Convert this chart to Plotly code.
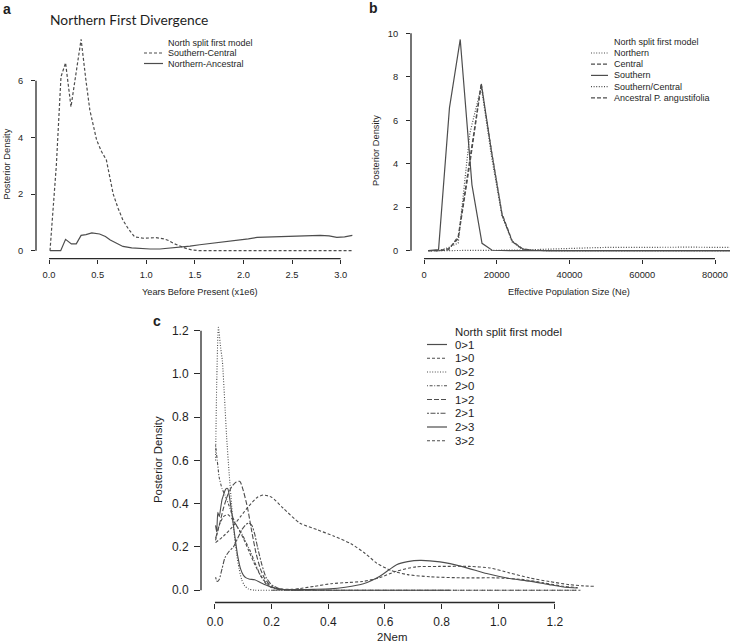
import plotly.graph_objects as go

W, H = 730, 642

# ---------------- data: panel a ----------------
a_title = "Northern First Divergence"
a_legend_title = "North split first model"
a_names = ["Southern-Central", "Northern-Ancestral"]
a_sc_x = [0.01, 0.075, 0.123, 0.17, 0.226, 0.28, 0.33, 0.38, 0.42, 0.49, 0.54, 0.59, 0.66, 0.71,
          0.76, 0.82, 0.88, 0.97, 1.05, 1.1, 1.18, 1.23, 1.28, 1.33, 1.38, 1.43, 1.48, 1.55, 1.7,
          1.9, 2.1, 2.3, 2.5, 2.7, 2.9, 3.13]
a_sc_y = [0.0, 3.0, 6.14, 6.63, 5.08, 6.3, 7.46, 6.0, 4.96, 3.9, 3.5, 3.2, 2.0, 1.5, 1.08, 0.75,
          0.49, 0.44, 0.45, 0.46, 0.42, 0.36, 0.26, 0.18, 0.12, 0.06, 0.02, 0.0, 0.0, 0.0, 0.0,
          0.0, 0.0, 0.0, 0.0, 0.0]
a_na_x = [0.01, 0.12, 0.17, 0.23, 0.28, 0.33, 0.38, 0.44, 0.52, 0.58, 0.63, 0.7, 0.76, 0.85, 0.94,
          1.04, 1.14, 1.25, 1.35, 1.45, 1.55, 1.65, 1.76, 1.86, 1.96, 2.05, 2.14, 2.24, 2.34, 2.44,
          2.58, 2.68, 2.79, 2.88, 2.96, 3.04, 3.12]
a_na_y = [0.0, 0.0, 0.4, 0.24, 0.24, 0.54, 0.57, 0.63, 0.59, 0.5, 0.38, 0.25, 0.15, 0.1, 0.07,
          0.06, 0.06, 0.09, 0.12, 0.16, 0.21, 0.25, 0.28, 0.33, 0.38, 0.42, 0.47, 0.48, 0.47, 0.49,
          0.52, 0.53, 0.54, 0.52, 0.47, 0.49, 0.54]
a_xticks = [0.0, 0.5, 1.0, 1.5, 2.0, 2.5, 3.0]
a_yticks = [0, 2, 4, 6]

# ---------------- data: panel b ----------------
b_names = ["Northern", "Central", "Southern", "Southern/Central", "Ancestral P. angustifolia"]
b_north_x = [1200, 4100, 7000, 10000, 13000, 16000, 19000, 22000, 25000, 28000, 32000, 36000,
             40000, 45000, 50000, 55000, 60000, 65000, 70000, 75000, 80000, 84500]
b_north_y = [0, 0, 0, 0, 0, 0, 0, 0, 0.01, 0.03, 0.06, 0.09, 0.11, 0.13, 0.15, 0.16, 0.17, 0.17,
             0.16, 0.16, 0.15, 0.15]
b_grid_x = [1200, 4100, 6800, 9400, 12600, 15750, 18600, 21450, 24250, 27000, 29800, 35000,
            45000, 55000, 65000, 75000, 84500]
b_central_y = [0, 0, 0.05, 0.65, 4.2, 7.7, 4.5, 1.65, 0.42, 0.08, 0.01, 0, 0, 0, 0, 0, 0]
b_sc_y = [0, 0, 0.15, 0.35, 5.4, 7.55, 4.3, 1.6, 0.4, 0.07, 0.01, 0, 0, 0, 0, 0, 0]
b_anc_y = [0, 0, 0.1, 0.55, 4.0, 7.65, 4.55, 1.7, 0.45, 0.1, 0.02, 0, 0, 0, 0, 0, 0]
b_south_x = [1200, 4000, 7000, 9960, 13180, 15950, 18720, 21500, 25000, 35000, 45000, 55000,
             65000, 75000, 84500]
b_south_y = [0, 0.05, 6.57, 9.72, 3.03, 0.34, 0.02, 0, 0, 0, 0, 0, 0, 0, 0]
b_xticks = [0, 20000, 40000, 60000, 80000]
b_yticks = [0, 2, 4, 6, 8, 10]

# ---------------- data: panel c ----------------
c_names = ["0>1", "1>0", "0>2", "2>0", "1>2", "2>1", "2>3", "3>2"]
c01_x = [0.002, 0.006, 0.01, 0.015, 0.02, 0.025, 0.03, 0.035, 0.04, 0.045, 0.05, 0.06, 0.07, 0.08,
         0.09, 0.1, 0.11, 0.12, 0.14, 0.16, 0.18, 0.2, 0.23, 0.26, 0.3, 0.4, 0.5, 0.6, 0.7, 0.8,
         0.83]
c01_y = [0.3, 0.27, 0.36, 0.34, 0.38, 0.42, 0.44, 0.46, 0.47, 0.47, 0.44, 0.35, 0.25, 0.16, 0.1,
         0.07, 0.057, 0.052, 0.048, 0.036, 0.024, 0.014, 0.006, 0.002, 0, 0, 0, 0, 0, 0, 0]
c10_x = [0.002, 0.015, 0.03, 0.045, 0.06, 0.08, 0.1, 0.12, 0.14, 0.16, 0.18, 0.2, 0.23, 0.27, 0.3,
         0.35, 0.41, 0.47, 0.52, 0.58, 0.64, 0.71, 0.79, 0.9, 0.97, 1.04, 1.11, 1.18, 1.25, 1.3,
         1.34]
c10_y = [0.23, 0.3, 0.34, 0.35, 0.33, 0.29, 0.24, 0.18, 0.12, 0.07, 0.035, 0.015, 0.005, 0.004,
         0.008, 0.018, 0.03, 0.036, 0.04, 0.057, 0.088, 0.108, 0.11, 0.11, 0.103, 0.08, 0.057,
         0.04, 0.026, 0.02, 0.018]
c02_x = [0.002, 0.006, 0.012, 0.02, 0.026, 0.034, 0.041, 0.05, 0.059, 0.067, 0.076, 0.085, 0.094,
         0.105, 0.118, 0.14, 0.2, 0.4, 0.6, 0.8, 1.0, 1.2, 1.28]
c02_y = [0.6, 0.95, 1.215, 1.12, 1.06, 0.88, 0.71, 0.54, 0.39, 0.27, 0.17, 0.1, 0.05, 0.02, 0.006,
         0, 0, 0, 0, 0, 0, 0, 0]
c20_x = [0.002, 0.008, 0.015, 0.025, 0.035, 0.05, 0.065, 0.08, 0.095, 0.11, 0.125, 0.14, 0.16,
         0.18, 0.2, 0.23, 0.27, 0.3]
c20_y = [0.67, 0.6, 0.52, 0.47, 0.44, 0.39, 0.33, 0.29, 0.26, 0.22, 0.18, 0.13, 0.07, 0.03, 0.012,
         0.003, 0, 0]
c12_x = [0.002, 0.015, 0.03, 0.045, 0.06, 0.075, 0.088, 0.1, 0.115, 0.13, 0.145, 0.16, 0.175,
         0.19, 0.21, 0.24, 0.3, 0.5, 0.7, 0.9, 1.1, 1.29]
c12_y = [0.24, 0.3, 0.38, 0.44, 0.48, 0.5, 0.503, 0.46, 0.38, 0.27, 0.17, 0.1, 0.055, 0.03, 0.01,
         0.002, 0, 0, 0, 0, 0, 0]
c21_x = [0.002, 0.008, 0.015, 0.025, 0.035, 0.05, 0.065, 0.08, 0.095, 0.11, 0.12, 0.13, 0.14,
         0.15, 0.165, 0.18, 0.2, 0.23, 0.27, 0.3]
c21_y = [0.06, 0.04, 0.05, 0.1, 0.15, 0.18, 0.2, 0.24, 0.28, 0.305, 0.31, 0.3, 0.26, 0.2, 0.12,
         0.06, 0.025, 0.006, 0, 0]
c23_x = [0.2, 0.25, 0.3, 0.35, 0.406, 0.46, 0.524, 0.582, 0.641, 0.68, 0.724, 0.794, 0.877, 0.959,
         1.04, 1.11, 1.18, 1.23, 1.28]
c23_y = [0, 0.002, 0.003, 0.004, 0.006, 0.014, 0.03, 0.065, 0.118, 0.132, 0.138, 0.131, 0.108,
         0.077, 0.054, 0.042, 0.026, 0.015, 0.01]
c32_x = [0.002, 0.03, 0.06, 0.09, 0.12, 0.15, 0.17, 0.2, 0.24, 0.3, 0.36, 0.42, 0.48, 0.53, 0.57,
         0.62, 0.68, 0.76, 0.88, 0.99, 1.09, 1.16, 1.23, 1.28]
c32_y = [0.22, 0.25, 0.29, 0.34, 0.39, 0.43, 0.44, 0.43, 0.38, 0.31, 0.28, 0.25, 0.215, 0.17,
         0.126, 0.092, 0.072, 0.062, 0.057, 0.057, 0.049, 0.034, 0.018, 0.012]
c_xticks = [0.0, 0.2, 0.4, 0.6, 0.8, 1.0, 1.2]
c_yticks = [0.0, 0.2, 0.4, 0.6, 0.8, 1.0, 1.2]

# ---------------- styles ----------------
LINE = "#4d4d4d"
TEXT = "#1e1e1e"
AXC = "#2a2a2a"
FONT = "Liberation Sans, Arial, sans-serif"
SOLID = "solid"
DASH = "3px,2px"
DOT = "1px,1.6px"
DOTDASH = "1px,1.6px,3px,1.6px"
LONGDASH = "5px,2px"
TWODASH = "2px,1.5px,5px,1.5px"

a_dash = [DASH, SOLID]
b_dash = [DOT, "4px,2px", SOLID, DOT, "4px,2px"]
c_dash = [SOLID, DASH, DOT, DOTDASH, LONGDASH, TWODASH, SOLID, DASH]


def px_x(x):
    return x / W


def px_y(y):
    return 1 - y / H


fig = go.Figure()

# panel a
for xs, ys, nm, d in [(a_sc_x, a_sc_y, a_names[0], a_dash[0]), (a_na_x, a_na_y, a_names[1], a_dash[1])]:
    fig.add_trace(go.Scatter(x=xs, y=ys, name=nm, mode="lines", xaxis="x", yaxis="y",
                             line=dict(color=LINE, width=1.2, dash=d), showlegend=False))
# panel b
for xs, ys, nm, d in [(b_north_x, b_north_y, b_names[0], b_dash[0]),
                      (b_grid_x, b_central_y, b_names[1], b_dash[1]),
                      (b_south_x, b_south_y, b_names[2], b_dash[2]),
                      (b_grid_x, b_sc_y, b_names[3], b_dash[3]),
                      (b_grid_x, b_anc_y, b_names[4], b_dash[4])]:
    fig.add_trace(go.Scatter(x=xs, y=ys, name=nm, mode="lines", xaxis="x2", yaxis="y2",
                             line=dict(color=LINE, width=1.2, dash=d), showlegend=False))
# panel c
c_series = [(c01_x, c01_y), (c10_x, c10_y), (c02_x, c02_y), (c20_x, c20_y),
            (c12_x, c12_y), (c21_x, c21_y), (c23_x, c23_y), (c32_x, c32_y)]
for (xs, ys), nm, d in zip(c_series, c_names, c_dash):
    fig.add_trace(go.Scatter(x=xs, y=ys, name=nm, mode="lines", xaxis="x3", yaxis="y3",
                             line=dict(color=LINE, width=1.1, dash=d, shape="spline", smoothing=0.6),
                             showlegend=False))


def axis(domain, rng, ticks, fmt, fs, tlen, standoff, anchor):
    return dict(domain=domain, range=rng, tickvals=ticks, tickformat=fmt, showgrid=False,
                zeroline=False, showline=False, ticks="outside", ticklen=tlen, tickwidth=1.1,
                tickcolor=AXC, tickfont=dict(family=FONT, size=fs, color=TEXT),
                ticklabelstandoff=standoff, fixedrange=True, automargin=False, anchor=anchor,
                ticklabeloverflow="allow")


# pixel geometry of plot regions
A = dict(l=36, r=365, t=30.8, b=258.7)
B = dict(l=411, r=730, t=31.6, b=258.7)
C = dict(l=201, r=609, t=316.8, b=602.5)

fig.update_layout(
    template="none",
    width=W, height=H, margin=dict(l=0, r=0, t=0, b=0, autoexpand=False),
    paper_bgcolor="white", plot_bgcolor="white", showlegend=False,
    xaxis=axis([px_x(A["l"]), px_x(A["r"])], [-0.134, 3.25], a_xticks, ".1f", 9.3, 4, 3, "y"),
    yaxis=axis([px_y(A["b"]), px_y(A["t"])], [-0.2824, 7.762], a_yticks, "d", 9.3, 4, 6, "x"),
    xaxis2=axis([px_x(B["l"]), px_x(B["r"])], [-3574, 84120], b_xticks, "d", 9.3, 4, 3, "y2"),
    yaxis2=axis([px_y(B["b"]), px_y(B["t"])], [-0.368, 10.08], b_yticks, "d", 9.3, 4, 6, "x2"),
    xaxis3=axis([px_x(C["l"]), px_x(C["r"])], [-0.0494, 1.3908], c_xticks, ".1f", 12, 5, 3, "y3"),
    yaxis3=axis([px_y(C["b"]), px_y(C["t"])], [-0.0568, 1.264], c_yticks, ".1f", 12, 6, 3, "x3"),
)

shapes = []
# R-style axis lines spanning first to last tick, placed on the plot-region edges
for xa, ya, xt, yt, reg in [("x", "y", a_xticks, a_yticks, A), ("x2", "y2", b_xticks, b_yticks, B),
                            ("x3", "y3", c_xticks, c_yticks, C)]:
    shapes.append(dict(type="line", xref=xa, yref="paper", x0=xt[0], x1=xt[-1],
                       y0=px_y(reg["b"]), y1=px_y(reg["b"]), line=dict(color=AXC, width=1.3)))
    shapes.append(dict(type="line", xref="paper", yref=ya, x0=px_x(reg["l"]), x1=px_x(reg["l"]),
                       y0=yt[0], y1=yt[-1], line=dict(color=AXC, width=1.3)))

annotations = []


def text(x, y, s, size, anchor="left", family=FONT, bold=False, angle=0):
    annotations.append(dict(x=px_x(x), y=px_y(y), xref="paper", yref="paper", text=("<b>%s</b>" % s) if bold else s,
                            showarrow=False, xanchor=anchor, yanchor="middle", textangle=angle,
                            font=dict(family=family, size=size, color=TEXT)))


def legend(title, names, dashes, x_line0, x_line1, x_text, y_title, y0, step, fs):
    text(x_text, y_title, title, fs)
    for i, (nm, d) in enumerate(zip(names, dashes)):
        yy = y0 + i * step
        shapes.append(dict(type="line", xref="paper", yref="paper", x0=px_x(x_line0), x1=px_x(x_line1),
                           y0=px_y(yy), y1=px_y(yy), line=dict(color=LINE, width=1.2, dash=d)))
        text(x_text, yy, nm, fs)


# panel labels & title
text(1, 9, "a", 14, bold=True)
text(367, 8, "b", 14, bold=True)
text(151, 321, "c", 14, bold=True)
text(48, 19.5, a_title, 13.8, family="Lato, Open Sans, sans-serif")

# axis titles
text(6.5, 164, "Posterior Density", 9.3, anchor="center", angle=-90)
text(200, 292, "Years Before Present (x1e6)", 9.2, anchor="center")
text(376, 151, "Posterior Density", 9.3, anchor="center", angle=-90)
text(569, 292, "Effective Population Size (Ne)", 9.2, anchor="center")
text(158, 460, "Posterior Density", 11.4, anchor="center", angle=-90)
text(392, 636.5, "2Nem", 11.4, anchor="center")

# legends
legend(a_legend_title, a_names, a_dash, 144, 163, 166, 42.7, 53, 10.5, 9)
legend(a_legend_title, b_names, b_dash, 591, 608, 611.7, 42.5, 53, 11.2, 9)
legend(a_legend_title, c_names, c_dash, 427, 447, 453, 331.5, 344.5, 13.75, 11.4)

fig.update_layout(shapes=shapes, annotations=annotations)
fig.write_html("out.html", config={"displayModeBar": False},
               post_script="document.body.style.margin='0';document.body.style.overflow='hidden';")
